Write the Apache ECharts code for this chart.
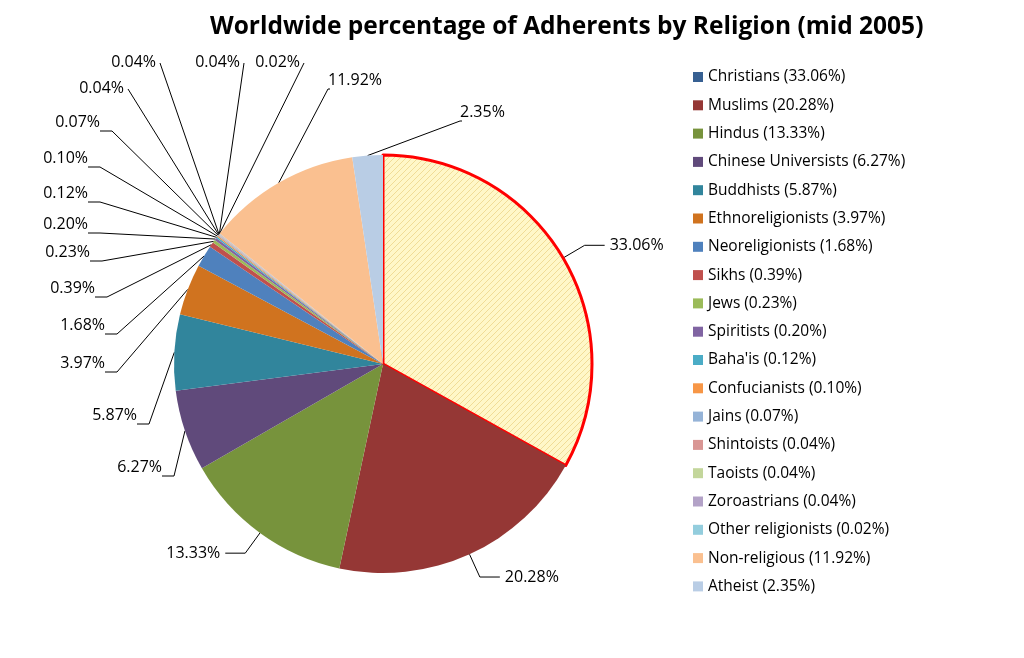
<!DOCTYPE html>
<html><head><meta charset="utf-8">
<script src="https://cdn.jsdelivr.net/npm/echarts@6/dist/echarts.min.js"></script>
<style>html,body{margin:0;background:#fff}#c{width:1024px;height:658px}</style>
</head><body><div id="c"></div>
<script>
var names = ['Christians','Muslims','Hindus','Chinese Universists','Buddhists','Ethnoreligionists','Neoreligionists','Sikhs','Jews','Spiritists',"Baha'is",'Confucianists','Jains','Shintoists','Taoists','Zoroastrians','Other religionists','Non-religious','Atheist'];
var values = [33.06,20.28,13.33,6.27,5.87,3.97,1.68,0.39,0.23,0.20,0.12,0.10,0.07,0.04,0.04,0.04,0.02,11.92,2.35];
var colors = ['#376092','#953735','#77933C','#604A7B','#31859C','#D0731F','#4F81BD','#C0504D','#9BBB59','#8064A2','#4BACC6','#F79646','#95B3D7','#D99694','#C3D69B','#B3A2C7','#93CDDD','#FAC090','#B9CDE5'];
// label anchors [x, y, align] for the crowded slices (index -> spot)
var labelSpots = {
  3: [162, 467, 'right'], 4: [137, 415, 'right'], 5: [105, 363, 'right'], 6: [105, 325, 'right'],
  7: [95, 288, 'right'], 8: [90, 252, 'right'], 9: [88, 224, 'right'], 10: [88, 193, 'right'],
  11: [88, 158, 'right'], 12: [100, 122, 'right'], 13: [124, 88, 'right'], 14: [156, 62, 'right'],
  15: [240, 62, 'right'], 16: [300, 62, 'right'], 17: [328, 80, 'left'], 18: [460, 112, 'left']
};

var chart = echarts.init(document.getElementById('c'));
var data = names.map(function(n, i) {
  var d = {name: n, value: values[i], itemStyle: {color: colors[i]}};
  if (i === 0) d.itemStyle = {color: {image: (function(){
      var c = document.createElement('canvas'); c.width = 6; c.height = 6;
      var g = c.getContext('2d'); g.fillStyle = '#FFF7C8'; g.fillRect(0,0,6,6);
      g.strokeStyle = '#F0DC96'; g.lineWidth = 1; g.beginPath(); g.moveTo(0,6); g.lineTo(6,0); g.stroke();
      return c; })(), repeat: 'repeat'}, borderColor: '#FF0000', borderWidth: 3};
  return d;
});
chart.setOption({
  title: {text: 'Worldwide percentage of Adherents by Religion (mid 2005)', left: 205, top: 10,
    textStyle: {fontFamily: 'Open Sans', fontSize: 24.5, fontWeight: 'bold', color: '#000'}},
  legend: {orient: 'vertical', left: 688, top: 64, itemGap: 12.3, itemWidth: 10, itemHeight: 10, icon: 'rect',
    data: names.map(function(n, i){ return {name: n, itemStyle: {color: colors[i], borderWidth: 0}}; }),
    textStyle: {fontFamily: 'Open Sans', fontSize: 15.5, color: '#000'},
    formatter: function(n) { return n + ' (' + values[names.indexOf(n)].toFixed(2) + '%)'; }},
  series: [{
    type: 'pie', center: [383, 364], radius: 209, startAngle: 90, clockwise: true,
    avoidLabelOverlap: false, animation: false,
    label: {formatter: function(p){ return p.value.toFixed(2) + '%'; }, fontFamily: 'Open Sans', fontSize: 16, color: '#000'},
    labelLine: {length: 25, length2: 20, lineStyle: {color: '#000', width: 1}},
    labelLayout: function(p) {
      var s = labelSpots[p.dataIndex];
      if (!s) return {};
      var p0 = p.labelLinePoints[0];
      var ly = s[1] + 9;
      var pts = s[2] === 'right' ? [p0, [s[0] + 12, ly], [s[0], ly]] : [p0, [s[0], ly], [s[0] + 2, ly]];
      if (p.dataIndex >= 13 && p.dataIndex <= 16) pts = [p0, [s[0] + 4, ly - 8]];
      return {x: s[0], y: s[1], align: s[2], verticalAlign: 'middle', labelLinePoints: pts};
    },
    emphasis: {disabled: true},
    data: data
  }]
});
</script></body></html>
